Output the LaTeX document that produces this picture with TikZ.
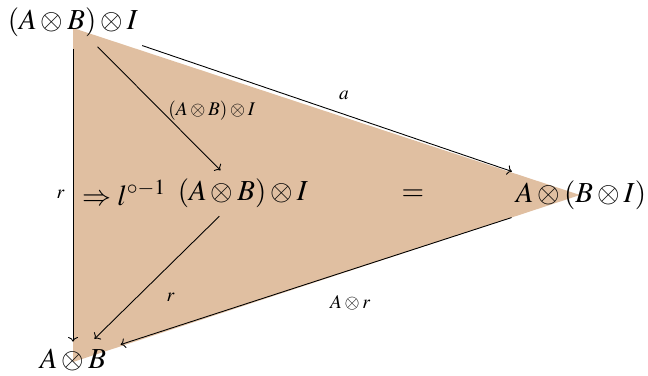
\documentclass[tikz,border=0pt]{standalone}
\usepackage{mathptmx}
\usetikzlibrary{arrows.meta}
\definecolor{cellfill}{RGB}{224,191,161}

\begin{document}
\begin{tikzpicture}[
    obj/.style={font=\fontsize{16.5}{19}\selectfont, inner sep=0pt},
    lbl/.style={font=\fontsize{11}{13}\selectfont, inner sep=0pt},
    mor/.style={-{To}, line width=0.5pt}]
  \useasboundingbox (0,0) rectangle (12.96,7.5);
  % 2-cell
  \fill[cellfill] (1.46,6.94) -- (11.6,3.6) -- (1.46,0.26) -- cycle;
  % objects
  \node[obj] (src) at (1.46,7.06) {$(A\otimes B)\otimes I$};
  \node[obj] (tgt) at (1.46,0.30) {$A\otimes B$};
  \node[obj] (rgt) at (11.62,3.6) {$A\otimes(B\otimes I)$};
  \node[obj] (mid) at (4.86,3.64) {$(A\otimes B)\otimes I$};
  \node[obj] (cell) at (2.48,3.64) {$\Rightarrow l^{\circ-1}$};
  \node[obj] (eq) at (8.26,3.6) {$=$};
  % morphisms
  \draw[mor, shorten <=0.24cm, shorten >=0.14cm] (src) -- (tgt)
    node[lbl, midway, left=0.16cm, yshift=-0.04cm] {$r$};
  \draw[mor, shorten <=0.28cm, shorten >=0.22cm] (src) -- (mid)
    node[lbl, midway, right=0.2cm, yshift=-0.06cm] {$(A\otimes B)\otimes I$};
  \draw[mor, shorten <=0.54cm, shorten >=0.54cm] (src) -- (rgt)
    node[lbl, pos=0.54, above=0.28cm] {$a$};
  \draw[mor, shorten <=0.24cm, shorten >=0.28cm] (mid) -- (tgt)
    node[lbl, midway, below right=0.2cm, yshift=-0.08cm] {$r$};
  \draw[mor, shorten <=0.5cm, shorten >=0.3cm] (rgt) -- (tgt)
    node[lbl, pos=0.45, below=0.3cm, xshift=0.16cm, yshift=-0.16cm] {$A\otimes r$};
\end{tikzpicture}
\end{document}
